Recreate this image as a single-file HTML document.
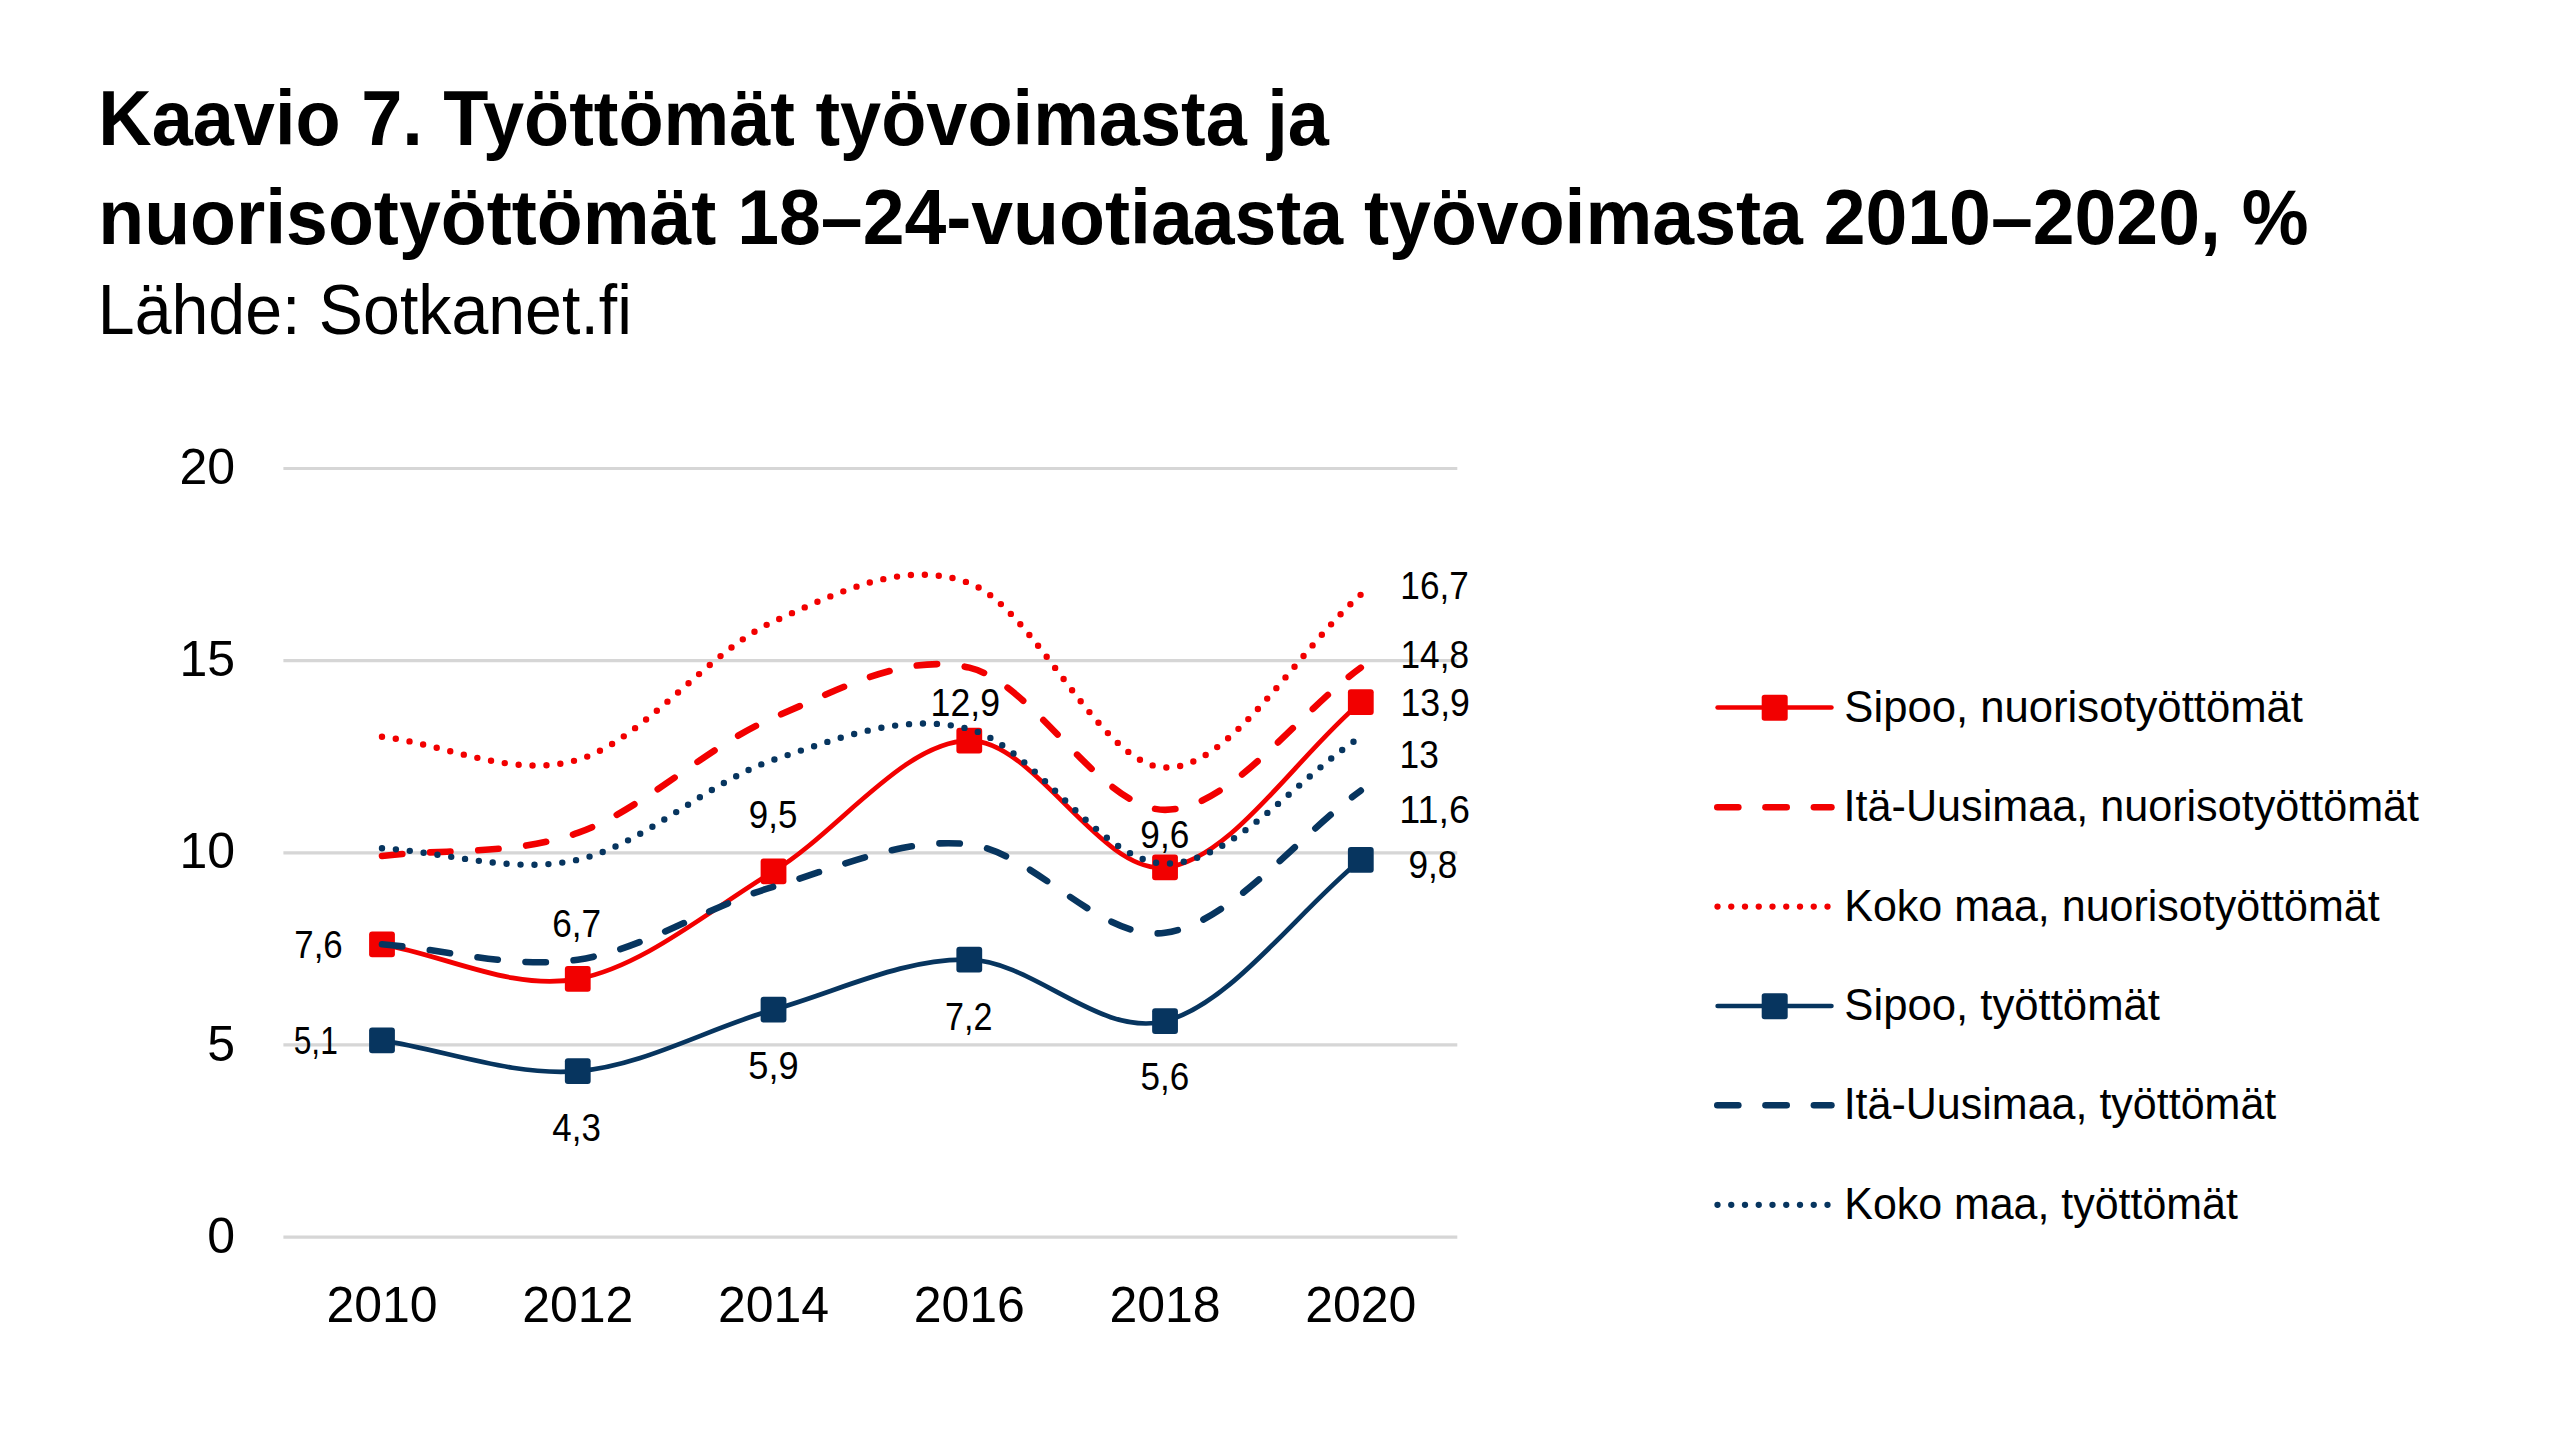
<!DOCTYPE html>
<html><head><meta charset="utf-8"><style>
html,body{margin:0;padding:0;background:#fff;width:2560px;height:1454px;overflow:hidden}
svg{display:block;font-family:"Liberation Sans", sans-serif}
text{fill:#000}
</style></head><body>
<svg width="2560" height="1454" viewBox="0 0 2560 1454">
<line x1="283.4" x2="1457.3" y1="1237.10" y2="1237.10" stroke="#D6D6D6" stroke-width="3.2"/>
<line x1="283.4" x2="1457.3" y1="1044.95" y2="1044.95" stroke="#D6D6D6" stroke-width="3.2"/>
<line x1="283.4" x2="1457.3" y1="852.80" y2="852.80" stroke="#D6D6D6" stroke-width="3.2"/>
<line x1="283.4" x2="1457.3" y1="660.65" y2="660.65" stroke="#D6D6D6" stroke-width="3.2"/>
<line x1="283.4" x2="1457.3" y1="468.50" y2="468.50" stroke="#D6D6D6" stroke-width="3.2"/>
<path d="M382.00 944.33 C447.25 955.86 512.51 991.09 577.76 978.92 C643.01 966.75 708.27 911.03 773.52 871.32 C838.77 831.60 904.03 741.29 969.28 740.65 C1034.53 740.01 1099.79 873.88 1165.04 867.47 C1230.29 861.07 1295.55 757.31 1360.80 702.22" fill="none" stroke="#F20000" stroke-width="4.7" stroke-linejoin="round" stroke-linecap="round"/>
<rect x="369.10" y="931.43" width="25.8" height="25.8" rx="3.0" fill="#F20000"/>
<rect x="564.86" y="966.02" width="25.8" height="25.8" rx="3.0" fill="#F20000"/>
<rect x="760.62" y="858.42" width="25.8" height="25.8" rx="3.0" fill="#F20000"/>
<rect x="956.38" y="727.75" width="25.8" height="25.8" rx="3.0" fill="#F20000"/>
<rect x="1152.14" y="854.57" width="25.8" height="25.8" rx="3.0" fill="#F20000"/>
<rect x="1347.90" y="689.32" width="25.8" height="25.8" rx="3.0" fill="#F20000"/>
<path d="M382.00 855.94 C447.25 848.26 512.51 855.94 577.76 832.89 C643.01 809.83 708.27 745.14 773.52 717.60 C838.77 690.05 904.03 652.26 969.28 667.64 C1034.53 683.01 1099.79 809.83 1165.04 809.83 C1230.29 809.83 1295.55 715.03 1360.80 667.64" fill="none" stroke="#F20000" stroke-width="6.6" stroke-dasharray="20.40 27.80" stroke-linecap="round"/>
<path d="M382.00 736.81 C447.25 744.50 512.51 779.08 577.76 759.87 C643.01 740.65 708.27 650.98 773.52 621.52 C838.77 592.06 904.03 558.75 969.28 583.09 C1034.53 607.43 1099.79 765.63 1165.04 767.55 C1230.29 769.48 1295.55 652.26 1360.80 594.62" fill="none" stroke="#F20000" stroke-width="6.4" stroke-dasharray="0 13.955" stroke-linecap="round"/>
<path d="M382.00 1040.41 C447.25 1050.66 512.51 1076.28 577.76 1071.15 C643.01 1066.03 708.27 1028.24 773.52 1009.66 C838.77 991.09 904.03 957.78 969.28 959.70 C1034.53 961.63 1099.79 1037.85 1165.04 1021.19 C1230.29 1004.54 1295.55 913.59 1360.80 859.79" fill="none" stroke="#07355F" stroke-width="4.7" stroke-linejoin="round" stroke-linecap="round"/>
<rect x="369.10" y="1027.51" width="25.8" height="25.8" rx="3.0" fill="#07355F"/>
<rect x="564.86" y="1058.25" width="25.8" height="25.8" rx="3.0" fill="#07355F"/>
<rect x="760.62" y="996.76" width="25.8" height="25.8" rx="3.0" fill="#07355F"/>
<rect x="956.38" y="946.80" width="25.8" height="25.8" rx="3.0" fill="#07355F"/>
<rect x="1152.14" y="1008.29" width="25.8" height="25.8" rx="3.0" fill="#07355F"/>
<rect x="1347.90" y="846.89" width="25.8" height="25.8" rx="3.0" fill="#07355F"/>
<path d="M382.00 944.33 C447.25 949.46 512.51 969.31 577.76 959.70 C643.01 950.10 708.27 905.90 773.52 886.69 C838.77 867.47 904.03 836.73 969.28 844.41 C1034.53 852.10 1099.79 941.77 1165.04 932.80 C1230.29 923.84 1295.55 838.01 1360.80 790.61" fill="none" stroke="#07355F" stroke-width="6.6" stroke-dasharray="20.40 27.80" stroke-linecap="round"/>
<path d="M382.00 848.26 C447.25 852.10 512.51 874.52 577.76 859.79 C643.01 845.05 708.27 781.65 773.52 759.87 C838.77 738.09 904.03 711.83 969.28 729.12 C1034.53 746.42 1099.79 862.35 1165.04 863.63 C1230.29 864.91 1295.55 779.08 1360.80 736.81" fill="none" stroke="#07355F" stroke-width="6.4" stroke-dasharray="0 13.955" stroke-linecap="round"/>
<text x="235" y="484" font-size="50" text-anchor="end" font-weight="normal">20</text>
<text x="235" y="676" font-size="50" text-anchor="end" font-weight="normal">15</text>
<text x="235" y="868" font-size="50" text-anchor="end" font-weight="normal">10</text>
<text x="235" y="1061" font-size="50" text-anchor="end" font-weight="normal">5</text>
<text x="235" y="1253" font-size="50" text-anchor="end" font-weight="normal">0</text>
<text x="382.0" y="1322" font-size="50" text-anchor="middle" font-weight="normal">2010</text>
<text x="577.76" y="1322" font-size="50" text-anchor="middle" font-weight="normal">2012</text>
<text x="773.52" y="1322" font-size="50" text-anchor="middle" font-weight="normal">2014</text>
<text x="969.28" y="1322" font-size="50" text-anchor="middle" font-weight="normal">2016</text>
<text x="1165.04" y="1322" font-size="50" text-anchor="middle" font-weight="normal">2018</text>
<text x="1360.8" y="1322" font-size="50" text-anchor="middle" font-weight="normal">2020</text>
<text x="294.26" y="958" font-size="38" font-weight="normal" textLength="48.44" lengthAdjust="spacingAndGlyphs">7,6</text>
<text x="552.24" y="936.8" font-size="38" font-weight="normal" textLength="48.92" lengthAdjust="spacingAndGlyphs">6,7</text>
<text x="748.83" y="828.4" font-size="38" font-weight="normal" textLength="48.47" lengthAdjust="spacingAndGlyphs">9,5</text>
<text x="930.62" y="715.9" font-size="38" font-weight="normal" textLength="69.43" lengthAdjust="spacingAndGlyphs">12,9</text>
<text x="1140.32" y="847.5" font-size="38" font-weight="normal" textLength="48.9" lengthAdjust="spacingAndGlyphs">9,6</text>
<text x="293.73" y="1054.3" font-size="38" font-weight="normal" textLength="44.1" lengthAdjust="spacingAndGlyphs">5,1</text>
<text x="552.3" y="1141" font-size="38" font-weight="normal" textLength="48.5" lengthAdjust="spacingAndGlyphs">4,3</text>
<text x="748.25" y="1079.4" font-size="38" font-weight="normal" textLength="50.39" lengthAdjust="spacingAndGlyphs">5,9</text>
<text x="944.99" y="1029.8" font-size="38" font-weight="normal" textLength="47.42" lengthAdjust="spacingAndGlyphs">7,2</text>
<text x="1140.5" y="1090.1" font-size="38" font-weight="normal" textLength="48.71" lengthAdjust="spacingAndGlyphs">5,6</text>
<text x="1400.36" y="599.1" font-size="38" font-weight="normal" textLength="68.44" lengthAdjust="spacingAndGlyphs">16,7</text>
<text x="1400.56" y="667.8" font-size="38" font-weight="normal" textLength="68.49" lengthAdjust="spacingAndGlyphs">14,8</text>
<text x="1400.52" y="715.7" font-size="38" font-weight="normal" textLength="69.43" lengthAdjust="spacingAndGlyphs">13,9</text>
<text x="1399.55" y="768.2" font-size="38" font-weight="normal" textLength="39.24" lengthAdjust="spacingAndGlyphs">13</text>
<text x="1399.37" y="823.2" font-size="38" font-weight="normal" textLength="70.62" lengthAdjust="spacingAndGlyphs">11,6</text>
<text x="1408.41" y="878.1" font-size="38" font-weight="normal" textLength="49.0" lengthAdjust="spacingAndGlyphs">9,8</text>
<line x1="1717.6499999999999" x2="1831.4" y1="707.5" y2="707.5" stroke="#F20000" stroke-width="4.7" stroke-linecap="round"/>
<rect x="1761.70" y="694.80" width="26" height="26" rx="2.8" fill="#F20000"/>
<text x="1844.34" y="722" font-size="44" font-weight="normal" textLength="458.63" lengthAdjust="spacingAndGlyphs">Sipoo, nuorisotyöttömät</text>
<line x1="1717.30" x2="1738.30" y1="807.2" y2="807.2" stroke="#F20000" stroke-width="6.6" stroke-linecap="round"/>
<line x1="1765.50" x2="1786.70" y1="807.2" y2="807.2" stroke="#F20000" stroke-width="6.6" stroke-linecap="round"/>
<line x1="1813.90" x2="1831.40" y1="807.2" y2="807.2" stroke="#F20000" stroke-width="6.6" stroke-linecap="round"/>
<text x="1843.62" y="821.2" font-size="44" font-weight="normal" textLength="575.48" lengthAdjust="spacingAndGlyphs">Itä-Uusimaa, nuorisotyöttömät</text>
<circle cx="1717.50" cy="906.6" r="3.15" fill="#F20000"/>
<circle cx="1731.25" cy="906.6" r="3.15" fill="#F20000"/>
<circle cx="1745.00" cy="906.6" r="3.15" fill="#F20000"/>
<circle cx="1758.75" cy="906.6" r="3.15" fill="#F20000"/>
<circle cx="1772.50" cy="906.6" r="3.15" fill="#F20000"/>
<circle cx="1786.25" cy="906.6" r="3.15" fill="#F20000"/>
<circle cx="1800.00" cy="906.6" r="3.15" fill="#F20000"/>
<circle cx="1813.75" cy="906.6" r="3.15" fill="#F20000"/>
<circle cx="1827.50" cy="906.6" r="3.15" fill="#F20000"/>
<text x="1844.26" y="920.6" font-size="44" font-weight="normal" textLength="535.4" lengthAdjust="spacingAndGlyphs">Koko maa, nuorisotyöttömät</text>
<line x1="1717.6499999999999" x2="1831.4" y1="1006" y2="1006" stroke="#07355F" stroke-width="4.7" stroke-linecap="round"/>
<rect x="1761.70" y="993.30" width="26" height="26" rx="2.8" fill="#07355F"/>
<text x="1844.33" y="1020.2" font-size="44" font-weight="normal" textLength="315.64" lengthAdjust="spacingAndGlyphs">Sipoo, työttömät</text>
<line x1="1717.30" x2="1738.30" y1="1105.2" y2="1105.2" stroke="#07355F" stroke-width="6.6" stroke-linecap="round"/>
<line x1="1765.50" x2="1786.70" y1="1105.2" y2="1105.2" stroke="#07355F" stroke-width="6.6" stroke-linecap="round"/>
<line x1="1813.90" x2="1831.40" y1="1105.2" y2="1105.2" stroke="#07355F" stroke-width="6.6" stroke-linecap="round"/>
<text x="1843.63" y="1119.3" font-size="44" font-weight="normal" textLength="432.67" lengthAdjust="spacingAndGlyphs">Itä-Uusimaa, työttömät</text>
<circle cx="1717.50" cy="1204.8" r="3.15" fill="#07355F"/>
<circle cx="1731.25" cy="1204.8" r="3.15" fill="#07355F"/>
<circle cx="1745.00" cy="1204.8" r="3.15" fill="#07355F"/>
<circle cx="1758.75" cy="1204.8" r="3.15" fill="#07355F"/>
<circle cx="1772.50" cy="1204.8" r="3.15" fill="#07355F"/>
<circle cx="1786.25" cy="1204.8" r="3.15" fill="#07355F"/>
<circle cx="1800.00" cy="1204.8" r="3.15" fill="#07355F"/>
<circle cx="1813.75" cy="1204.8" r="3.15" fill="#07355F"/>
<circle cx="1827.50" cy="1204.8" r="3.15" fill="#07355F"/>
<text x="1844.27" y="1218.6" font-size="44" font-weight="normal" textLength="393.59" lengthAdjust="spacingAndGlyphs">Koko maa, työttömät</text>
<text x="98.3" y="145" font-size="78" font-weight="bold" textLength="1230.6" lengthAdjust="spacingAndGlyphs">Kaavio 7. Työttömät työvoimasta ja</text>
<text x="98.21" y="244.4" font-size="78" font-weight="bold" textLength="2210.42" lengthAdjust="spacingAndGlyphs">nuorisotyöttömät 18–24-vuotiaasta työvoimasta 2010–2020, %</text>
<text x="97.8" y="334" font-size="71" font-weight="normal" textLength="534.12" lengthAdjust="spacingAndGlyphs">Lähde: Sotkanet.fi</text>
</svg>
</body></html>
